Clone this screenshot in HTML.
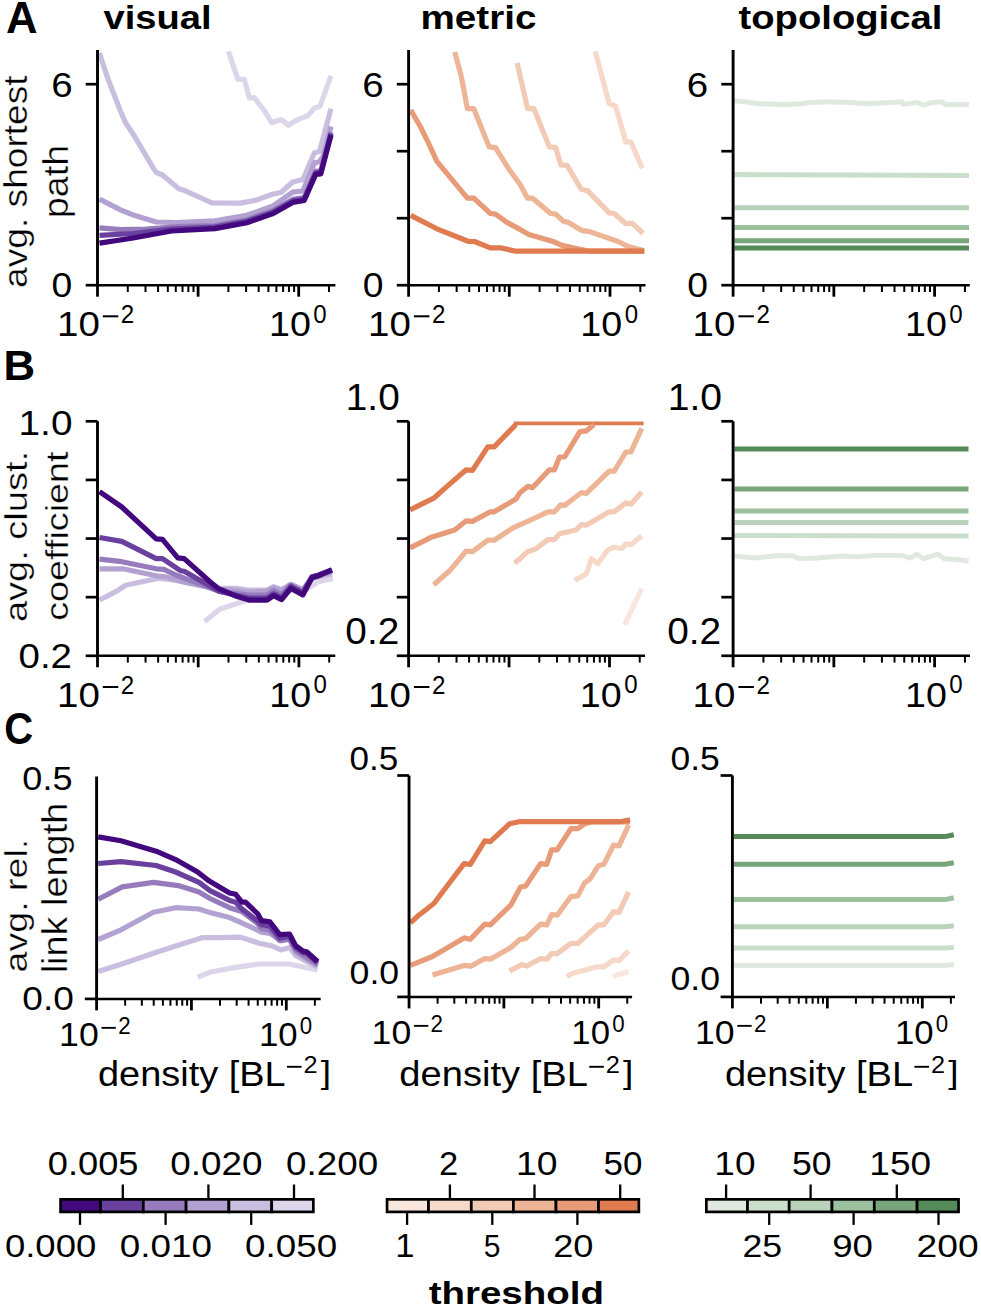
<!DOCTYPE html><html><head><meta charset="utf-8"><style>html,body{margin:0;padding:0;background:#fff;width:981px;height:1309px;overflow:hidden}</style></head><body><svg width="981" height="1309" viewBox="0 0 981 1309" style="position:absolute;left:0;top:0;font-family:'Liberation Sans',sans-serif">
<rect width="981" height="1309" fill="#fff"/>
<polyline points="228.4,51.4 237.9,79.4 244.3,79.4 249.4,97.9 254.5,97.9 264.7,111.3 271.7,122.7 281.3,119.5 288.3,125.3 296.5,120.2 308.0,115.7 314.4,108.1 320.1,106.2 331.0,75.6" fill="none" stroke="#ddd6eb" stroke-width="5.2" stroke-linejoin="round" stroke-linecap="butt"/>
<polyline points="99.4,53.0 107.7,78.1 120.5,111.3 125.6,122.7 133.2,134.2 153.6,168.6 156.2,172.4 162.5,175.0 179.1,189.0 184.2,190.3 212.2,203.0 240.5,203.1 257.0,199.9 272.3,194.2 281.3,192.2 292.7,182.0 302.9,179.5 314.4,152.7 319.5,151.5 331.0,108.7" fill="none" stroke="#c9bee0" stroke-width="5.2" stroke-linejoin="round" stroke-linecap="butt"/>
<polyline points="99.5,199.1 120.5,209.9 133.2,215.0 156.2,222.0 176.5,222.7 215.0,220.9 246.9,215.2 272.3,206.3 292.7,192.2 302.9,191.0 314.4,162.9 319.5,161.7 323.3,155.9 331.0,126.5" fill="none" stroke="#b3a1d1" stroke-width="5.2" stroke-linejoin="round" stroke-linecap="butt"/>
<polyline points="99.5,227.8 120.5,229.7 146.0,229.1 177.8,226.5 215.0,225.6 246.9,219.8 272.3,210.9 292.7,199.4 304.2,197.5 315.7,171.4 320.8,170.8 331.0,132.0" fill="none" stroke="#967cbc" stroke-width="5.2" stroke-linejoin="round" stroke-linecap="butt"/>
<polyline points="99.5,235.4 133.2,233.5 171.5,229.0 215.0,227.1 246.9,221.3 272.3,212.4 292.7,200.9 304.2,199.0 315.7,172.9 320.8,172.3 331.0,133.5" fill="none" stroke="#6a409f" stroke-width="5.2" stroke-linejoin="round" stroke-linecap="butt"/>
<polyline points="99.5,243.1 133.2,238.0 171.5,231.0 215.0,228.6 246.9,222.8 272.3,213.9 292.7,202.4 304.2,200.5 315.7,174.4 320.8,173.8 331.0,135.0" fill="none" stroke="#43077e" stroke-width="5.2" stroke-linejoin="round" stroke-linecap="butt"/>
<polyline points="595.2,51.4 609.2,103.6 615.6,106.2 625.8,141.8 630.9,141.8 642.3,168.6" fill="none" stroke="#f6d9c9" stroke-width="5.2" stroke-linejoin="round" stroke-linecap="butt"/>
<polyline points="517.1,62.8 527.6,108.7 534.0,108.7 549.3,146.9 555.7,147.6 560.8,164.8 567.1,165.4 581.2,189.3 587.5,190.6 609.2,212.9 614.3,213.5 625.8,223.7 632.1,223.1 643.0,233.3" fill="none" stroke="#f2cab6" stroke-width="5.2" stroke-linejoin="round" stroke-linecap="butt"/>
<polyline points="454.7,52.0 461.1,75.6 467.4,108.7 473.8,108.7 489.1,146.9 495.5,147.6 509.5,170.0 520.0,184.2 527.6,198.2 532.7,198.2 550.6,213.5 555.7,214.2 563.3,221.2 568.4,222.4 582.4,230.7 588.8,231.4 618.1,241.5 628.3,246.6 643.6,250.5" fill="none" stroke="#eeb496" stroke-width="5.2" stroke-linejoin="round" stroke-linecap="butt"/>
<polyline points="410.7,110.0 420.3,126.5 427.9,141.8 436.9,161.3 467.4,198.2 473.8,198.2 490.4,213.5 495.5,214.2 506.9,222.4 520.0,229.4 528.9,234.5 553.1,241.5 562.0,245.4 579.9,249.2 590.0,251.2 644.0,251.2" fill="none" stroke="#e79b78" stroke-width="5.2" stroke-linejoin="round" stroke-linecap="butt"/>
<polyline points="410.7,215.4 436.9,228.8 468.7,241.5 474.4,241.5 490.4,247.9 500.6,247.9 515.9,251.2 644.5,251.2" fill="none" stroke="#e07b4f" stroke-width="5.2" stroke-linejoin="round" stroke-linecap="butt"/>
<polyline points="734.5,101.0 745.0,101.7 758.4,103.7 783.8,104.4 801.2,103.7 810.6,102.4 826.6,101.7 850.0,102.4 868.7,103.7 902.1,101.7 903.5,104.4 916.8,102.4 923.5,105.0 932.9,102.4 942.2,101.7 944.9,104.4 969.0,104.6" fill="none" stroke="#e0e9e0" stroke-width="5.0" stroke-linejoin="round" stroke-linecap="butt"/>
<polyline points="734.5,174.6 850.0,175.0 969.0,175.4" fill="none" stroke="#cbddcb" stroke-width="5.0" stroke-linejoin="round" stroke-linecap="butt"/>
<polyline points="734.5,207.7 850.0,207.7 969.0,207.7" fill="none" stroke="#b9d3ba" stroke-width="5.0" stroke-linejoin="round" stroke-linecap="butt"/>
<polyline points="734.5,227.6 850.0,227.6 969.0,227.6" fill="none" stroke="#9bc19e" stroke-width="5.0" stroke-linejoin="round" stroke-linecap="butt"/>
<polyline points="734.5,240.7 850.0,240.7 969.0,240.7" fill="none" stroke="#78a67b" stroke-width="5.0" stroke-linejoin="round" stroke-linecap="butt"/>
<polyline points="734.5,248.1 850.0,248.1 969.0,248.1" fill="none" stroke="#558b59" stroke-width="5.0" stroke-linejoin="round" stroke-linecap="butt"/>
<polyline points="204.6,621.6 220.0,608.9 243.1,601.6 260.0,597.0 290.0,591.0 305.0,590.0 318.0,582.0 333.0,578.4" fill="none" stroke="#ddd6eb" stroke-width="5.2" stroke-linejoin="round" stroke-linecap="butt"/>
<polyline points="99.5,600.0 116.7,591.1 125.6,585.3 158.7,578.3 171.5,579.6 218.6,588.1 236.5,588.3 249.8,590.2 267.0,590.2 273.6,586.6 281.6,589.6 290.8,584.3 302.8,589.9 312.0,578.7 318.7,577.0 331.9,574.0" fill="none" stroke="#c9bee0" stroke-width="5.2" stroke-linejoin="round" stroke-linecap="butt"/>
<polyline points="99.5,568.8 123.0,568.8 156.2,575.8 166.4,577.0 184.2,582.1 218.6,589.3 236.5,590.3 249.8,592.2 267.0,591.2 273.6,587.6 281.6,590.6 290.8,584.3 302.8,589.9 312.0,577.7 318.7,576.0 331.9,572.0" fill="none" stroke="#b3a1d1" stroke-width="5.2" stroke-linejoin="round" stroke-linecap="butt"/>
<polyline points="99.5,559.2 121.8,561.7 156.2,568.8 163.8,569.4 177.8,575.8 218.6,591.1 236.5,593.3 249.8,595.2 267.0,595.2 273.6,590.6 281.6,594.6 290.8,585.3 302.8,591.9 312.0,576.7 318.7,575.0 331.9,570.5" fill="none" stroke="#967cbc" stroke-width="5.2" stroke-linejoin="round" stroke-linecap="butt"/>
<polyline points="99.5,537.5 121.8,541.4 156.2,558.6 162.5,558.6 180.4,570.7 184.2,571.3 218.6,591.1 236.5,595.3 249.8,598.2 267.0,598.2 273.6,593.6 281.6,597.6 290.8,586.3 302.8,592.9 312.0,576.7 318.7,575.0 331.9,569.8" fill="none" stroke="#6a409f" stroke-width="5.2" stroke-linejoin="round" stroke-linecap="butt"/>
<polyline points="99.5,491.7 121.8,507.0 156.2,538.8 162.5,539.4 177.8,557.9 184.2,558.6 210.0,581.7 218.0,588.3 236.5,596.3 249.8,600.2 267.0,600.2 273.6,595.6 281.6,599.6 290.8,588.3 302.8,594.9 312.0,577.7 318.7,575.7 331.9,569.8" fill="none" stroke="#43077e" stroke-width="5.2" stroke-linejoin="round" stroke-linecap="butt"/>
<polyline points="514.0,423.4 643.6,423.4" fill="none" stroke="#e07b4f" stroke-width="3.6" stroke-linejoin="round" stroke-linecap="butt"/>
<polyline points="624.5,624.9 641.7,588.6" fill="none" stroke="#f9e7dd" stroke-width="5.2" stroke-linejoin="round" stroke-linecap="butt"/>
<polyline points="574.8,580.3 586.3,574.0 591.4,558.7 597.7,563.8 607.9,549.8 614.3,547.2 621.9,548.5 625.8,544.0 630.9,544.7 641.7,535.7" fill="none" stroke="#f6d9c9" stroke-width="5.2" stroke-linejoin="round" stroke-linecap="butt"/>
<polyline points="514.6,563.1 520.0,558.7 527.6,551.7 535.3,549.1 548.0,539.6 554.4,539.6 559.5,533.8 576.1,530.0 581.2,524.6 586.3,525.2 609.2,511.8 614.3,511.8 625.8,502.9 630.9,504.2 641.7,492.1" fill="none" stroke="#f2cab6" stroke-width="5.2" stroke-linejoin="round" stroke-linecap="butt"/>
<polyline points="433.7,584.8 449.6,570.8 466.2,551.0 472.5,551.7 487.8,540.2 494.2,540.2 513.3,527.8 520.0,524.6 527.6,521.4 548.0,511.8 554.4,511.8 560.8,504.8 564.6,505.5 581.2,492.7 586.3,493.4 609.2,471.1 614.3,471.1 625.8,452.0 630.9,452.0 641.7,428.4" fill="none" stroke="#eeb496" stroke-width="5.2" stroke-linejoin="round" stroke-linecap="butt"/>
<polyline points="410.1,547.8 430.5,537.6 454.7,530.0 466.2,520.8 472.5,521.4 490.4,511.8 494.2,511.8 515.9,499.1 520.0,492.7 527.6,486.4 532.7,487.6 549.3,469.8 554.4,469.8 559.5,457.0 564.6,457.0 579.9,431.6 586.3,430.9 593.9,424.5" fill="none" stroke="#e79b78" stroke-width="5.2" stroke-linejoin="round" stroke-linecap="butt"/>
<polyline points="410.1,509.9 434.3,497.8 447.0,486.4 466.2,469.8 472.5,470.4 487.8,446.9 494.2,446.9 515.9,424.5" fill="none" stroke="#e07b4f" stroke-width="5.2" stroke-linejoin="round" stroke-linecap="butt"/>
<polyline points="734.5,556.1 754.3,558.1 778.5,555.5 793.8,556.1 798.9,558.7 816.7,558.1 842.2,556.1 857.6,556.8 874.2,555.5 902.2,555.5 909.9,558.1 916.9,554.2 923.3,558.7 931.5,556.1 937.9,554.2 944.3,558.7 960.9,560.0 968.5,561.0" fill="none" stroke="#e0e9e0" stroke-width="5.0" stroke-linejoin="round" stroke-linecap="butt"/>
<polyline points="734.5,535.5 850.0,535.7 968.5,536.0" fill="none" stroke="#cbddcb" stroke-width="5.0" stroke-linejoin="round" stroke-linecap="butt"/>
<polyline points="734.5,522.4 850.0,522.4 968.5,522.4" fill="none" stroke="#b9d3ba" stroke-width="5.0" stroke-linejoin="round" stroke-linecap="butt"/>
<polyline points="734.5,510.9 850.0,510.9 968.5,510.9" fill="none" stroke="#9bc19e" stroke-width="5.0" stroke-linejoin="round" stroke-linecap="butt"/>
<polyline points="734.5,488.9 850.0,488.9 968.5,488.9" fill="none" stroke="#78a67b" stroke-width="5.0" stroke-linejoin="round" stroke-linecap="butt"/>
<polyline points="734.5,449.1 850.0,449.1 968.5,449.1" fill="none" stroke="#558b59" stroke-width="5.0" stroke-linejoin="round" stroke-linecap="butt"/>
<polyline points="197.7,977.2 210.6,972.0 234.5,967.6 258.9,964.0 289.5,964.0 317.6,970.1" fill="none" stroke="#ddd6eb" stroke-width="5.2" stroke-linejoin="round" stroke-linecap="butt"/>
<polyline points="98.2,971.4 121.0,964.2 153.5,953.2 175.6,946.0 202.8,937.6 220.0,937.6 240.6,937.1 258.9,943.2 271.2,945.6 281.0,949.9 289.5,947.5 295.6,955.4 317.6,967.6" fill="none" stroke="#c9bee0" stroke-width="5.2" stroke-linejoin="round" stroke-linecap="butt"/>
<polyline points="98.2,939.5 121.0,929.8 153.5,912.3 175.6,907.7 199.0,909.0 210.0,912.6 229.6,917.5 240.6,922.4 256.5,929.7 261.4,932.2 269.9,933.4 281.0,940.7 289.5,938.3 295.6,952.0 303.0,957.0 317.6,965.8" fill="none" stroke="#b3a1d1" stroke-width="5.2" stroke-linejoin="round" stroke-linecap="butt"/>
<polyline points="98.2,899.3 122.3,886.9 153.5,882.4 178.2,885.6 199.0,892.1 210.0,898.5 229.6,907.7 241.8,911.4 257.7,923.6 261.4,928.5 269.9,930.3 279.7,940.7 289.5,939.5 295.6,950.0 303.0,955.0 317.6,964.5" fill="none" stroke="#967cbc" stroke-width="5.2" stroke-linejoin="round" stroke-linecap="butt"/>
<polyline points="98.2,863.5 121.0,861.6 156.1,865.5 175.6,872.0 199.0,882.4 210.0,890.6 229.6,900.4 235.7,902.2 241.8,908.9 257.7,921.2 261.4,924.8 269.9,926.1 279.7,938.3 289.5,936.5 295.6,947.5 303.0,952.6 306.6,953.3 317.6,962.8" fill="none" stroke="#6a409f" stroke-width="5.2" stroke-linejoin="round" stroke-linecap="butt"/>
<polyline points="98.2,836.9 121.0,840.8 156.1,851.2 175.6,859.6 197.6,872.0 209.3,881.1 229.6,893.0 235.7,894.3 241.8,902.2 245.5,902.2 257.7,913.8 261.4,920.6 269.9,921.8 279.7,934.6 289.5,934.0 295.6,945.6 303.0,951.1 306.6,951.7 317.6,961.5" fill="none" stroke="#43077e" stroke-width="5.2" stroke-linejoin="round" stroke-linecap="butt"/>
<polyline points="612.8,976.4 628.6,971.6" fill="none" stroke="#f9e7dd" stroke-width="5.2" stroke-linejoin="round" stroke-linecap="butt"/>
<polyline points="566.8,976.4 573.6,973.0 597.0,966.8 603.9,966.8 613.5,959.9 619.0,960.6 628.6,951.0" fill="none" stroke="#f6d9c9" stroke-width="5.2" stroke-linejoin="round" stroke-linecap="butt"/>
<polyline points="509.5,970.9 521.9,964.7 526.9,966.1 540.6,958.5 546.8,959.2 551.6,953.7 557.1,953.7 570.9,943.4 577.8,943.4 598.4,924.8 603.9,924.8 613.5,911.8 619.0,912.4 628.6,891.8" fill="none" stroke="#f2cab6" stroke-width="5.2" stroke-linejoin="round" stroke-linecap="butt"/>
<polyline points="432.5,975.0 464.1,965.4 471.0,966.1 484.8,958.5 490.3,959.2 510.9,947.5 520.0,939.3 525.5,938.6 540.6,924.1 546.8,924.8 551.6,914.5 557.1,915.2 570.9,896.6 577.8,895.9 584.6,882.9 590.1,878.8 598.4,865.7 603.9,864.3 613.5,845.1 619.0,845.8 628.6,825.1" fill="none" stroke="#eeb496" stroke-width="5.2" stroke-linejoin="round" stroke-linecap="butt"/>
<polyline points="410.5,965.4 432.5,956.5 464.1,937.9 470.3,939.3 484.8,924.1 490.3,924.8 510.9,904.9 520.5,887.0 525.5,886.3 540.6,863.6 546.8,864.3 551.6,849.9 557.1,849.9 570.9,828.6 577.8,828.6 584.6,823.8 591.5,822.0 630.0,822.0" fill="none" stroke="#e79b78" stroke-width="5.2" stroke-linejoin="round" stroke-linecap="butt"/>
<polyline points="410.5,922.8 418.8,915.2 433.9,903.5 446.3,887.0 464.1,863.6 470.3,864.3 484.8,840.9 490.3,841.6 509.5,823.8 519.1,821.7 620.0,821.7 630.0,819.8" fill="none" stroke="#e07b4f" stroke-width="5.2" stroke-linejoin="round" stroke-linecap="butt"/>
<polyline points="733.8,965.5 945.0,965.5 953.8,964.6" fill="none" stroke="#e0e9e0" stroke-width="5.0" stroke-linejoin="round" stroke-linecap="butt"/>
<polyline points="733.8,948.1 945.0,948.1 953.8,947.2" fill="none" stroke="#cbddcb" stroke-width="5.0" stroke-linejoin="round" stroke-linecap="butt"/>
<polyline points="733.8,926.8 945.0,926.8 953.8,925.8" fill="none" stroke="#b9d3ba" stroke-width="5.0" stroke-linejoin="round" stroke-linecap="butt"/>
<polyline points="733.8,899.6 945.0,899.6 953.8,897.7" fill="none" stroke="#9bc19e" stroke-width="5.0" stroke-linejoin="round" stroke-linecap="butt"/>
<polyline points="733.8,864.3 945.0,864.3 953.8,862.7" fill="none" stroke="#78a67b" stroke-width="5.0" stroke-linejoin="round" stroke-linecap="butt"/>
<polyline points="733.8,836.6 945.0,836.6 953.8,834.7" fill="none" stroke="#558b59" stroke-width="5.0" stroke-linejoin="round" stroke-linecap="butt"/>
<line x1="97.50" y1="50.00" x2="97.50" y2="286.50" stroke="#000" stroke-width="2.9" stroke-linecap="butt"/>
<line x1="96.05" y1="285.20" x2="335.40" y2="285.20" stroke="#000" stroke-width="2.5" stroke-linecap="butt"/>
<line x1="85.70" y1="285.20" x2="97.50" y2="285.20" stroke="#000" stroke-width="2.7" stroke-linecap="butt"/>
<line x1="85.70" y1="84.20" x2="97.50" y2="84.20" stroke="#000" stroke-width="2.7" stroke-linecap="butt"/>
<line x1="97.50" y1="285.20" x2="97.50" y2="296.70" stroke="#000" stroke-width="2.8" stroke-linecap="butt"/>
<line x1="198.10" y1="285.20" x2="198.10" y2="296.70" stroke="#000" stroke-width="2.8" stroke-linecap="butt"/>
<line x1="298.70" y1="285.20" x2="298.70" y2="296.70" stroke="#000" stroke-width="2.8" stroke-linecap="butt"/>
<line x1="127.78" y1="285.20" x2="127.78" y2="292.00" stroke="#000" stroke-width="2.0" stroke-linecap="butt"/>
<line x1="145.50" y1="285.20" x2="145.50" y2="292.00" stroke="#000" stroke-width="2.0" stroke-linecap="butt"/>
<line x1="158.07" y1="285.20" x2="158.07" y2="292.00" stroke="#000" stroke-width="2.0" stroke-linecap="butt"/>
<line x1="167.82" y1="285.20" x2="167.82" y2="292.00" stroke="#000" stroke-width="2.0" stroke-linecap="butt"/>
<line x1="175.78" y1="285.20" x2="175.78" y2="292.00" stroke="#000" stroke-width="2.0" stroke-linecap="butt"/>
<line x1="182.52" y1="285.20" x2="182.52" y2="292.00" stroke="#000" stroke-width="2.0" stroke-linecap="butt"/>
<line x1="188.35" y1="285.20" x2="188.35" y2="292.00" stroke="#000" stroke-width="2.0" stroke-linecap="butt"/>
<line x1="193.50" y1="285.20" x2="193.50" y2="292.00" stroke="#000" stroke-width="2.0" stroke-linecap="butt"/>
<line x1="228.38" y1="285.20" x2="228.38" y2="292.00" stroke="#000" stroke-width="2.0" stroke-linecap="butt"/>
<line x1="246.10" y1="285.20" x2="246.10" y2="292.00" stroke="#000" stroke-width="2.0" stroke-linecap="butt"/>
<line x1="258.67" y1="285.20" x2="258.67" y2="292.00" stroke="#000" stroke-width="2.0" stroke-linecap="butt"/>
<line x1="268.42" y1="285.20" x2="268.42" y2="292.00" stroke="#000" stroke-width="2.0" stroke-linecap="butt"/>
<line x1="276.38" y1="285.20" x2="276.38" y2="292.00" stroke="#000" stroke-width="2.0" stroke-linecap="butt"/>
<line x1="283.12" y1="285.20" x2="283.12" y2="292.00" stroke="#000" stroke-width="2.0" stroke-linecap="butt"/>
<line x1="288.95" y1="285.20" x2="288.95" y2="292.00" stroke="#000" stroke-width="2.0" stroke-linecap="butt"/>
<line x1="294.10" y1="285.20" x2="294.10" y2="292.00" stroke="#000" stroke-width="2.0" stroke-linecap="butt"/>
<line x1="328.98" y1="285.20" x2="328.98" y2="292.00" stroke="#000" stroke-width="2.0" stroke-linecap="butt"/>
<line x1="408.60" y1="50.00" x2="408.60" y2="286.50" stroke="#000" stroke-width="2.9" stroke-linecap="butt"/>
<line x1="407.15" y1="285.20" x2="645.50" y2="285.20" stroke="#000" stroke-width="2.5" stroke-linecap="butt"/>
<line x1="396.80" y1="285.20" x2="408.60" y2="285.20" stroke="#000" stroke-width="2.7" stroke-linecap="butt"/>
<line x1="396.80" y1="218.20" x2="408.60" y2="218.20" stroke="#000" stroke-width="2.7" stroke-linecap="butt"/>
<line x1="396.80" y1="151.20" x2="408.60" y2="151.20" stroke="#000" stroke-width="2.7" stroke-linecap="butt"/>
<line x1="396.80" y1="84.20" x2="408.60" y2="84.20" stroke="#000" stroke-width="2.7" stroke-linecap="butt"/>
<line x1="408.60" y1="285.20" x2="408.60" y2="296.70" stroke="#000" stroke-width="2.8" stroke-linecap="butt"/>
<line x1="509.30" y1="285.20" x2="509.30" y2="296.70" stroke="#000" stroke-width="2.8" stroke-linecap="butt"/>
<line x1="610.00" y1="285.20" x2="610.00" y2="296.70" stroke="#000" stroke-width="2.8" stroke-linecap="butt"/>
<line x1="438.91" y1="285.20" x2="438.91" y2="292.00" stroke="#000" stroke-width="2.0" stroke-linecap="butt"/>
<line x1="456.65" y1="285.20" x2="456.65" y2="292.00" stroke="#000" stroke-width="2.0" stroke-linecap="butt"/>
<line x1="469.23" y1="285.20" x2="469.23" y2="292.00" stroke="#000" stroke-width="2.0" stroke-linecap="butt"/>
<line x1="478.99" y1="285.20" x2="478.99" y2="292.00" stroke="#000" stroke-width="2.0" stroke-linecap="butt"/>
<line x1="486.96" y1="285.20" x2="486.96" y2="292.00" stroke="#000" stroke-width="2.0" stroke-linecap="butt"/>
<line x1="493.70" y1="285.20" x2="493.70" y2="292.00" stroke="#000" stroke-width="2.0" stroke-linecap="butt"/>
<line x1="499.54" y1="285.20" x2="499.54" y2="292.00" stroke="#000" stroke-width="2.0" stroke-linecap="butt"/>
<line x1="504.69" y1="285.20" x2="504.69" y2="292.00" stroke="#000" stroke-width="2.0" stroke-linecap="butt"/>
<line x1="539.61" y1="285.20" x2="539.61" y2="292.00" stroke="#000" stroke-width="2.0" stroke-linecap="butt"/>
<line x1="557.35" y1="285.20" x2="557.35" y2="292.00" stroke="#000" stroke-width="2.0" stroke-linecap="butt"/>
<line x1="569.93" y1="285.20" x2="569.93" y2="292.00" stroke="#000" stroke-width="2.0" stroke-linecap="butt"/>
<line x1="579.69" y1="285.20" x2="579.69" y2="292.00" stroke="#000" stroke-width="2.0" stroke-linecap="butt"/>
<line x1="587.66" y1="285.20" x2="587.66" y2="292.00" stroke="#000" stroke-width="2.0" stroke-linecap="butt"/>
<line x1="594.40" y1="285.20" x2="594.40" y2="292.00" stroke="#000" stroke-width="2.0" stroke-linecap="butt"/>
<line x1="600.24" y1="285.20" x2="600.24" y2="292.00" stroke="#000" stroke-width="2.0" stroke-linecap="butt"/>
<line x1="605.39" y1="285.20" x2="605.39" y2="292.00" stroke="#000" stroke-width="2.0" stroke-linecap="butt"/>
<line x1="640.31" y1="285.20" x2="640.31" y2="292.00" stroke="#000" stroke-width="2.0" stroke-linecap="butt"/>
<line x1="733.10" y1="50.00" x2="733.10" y2="286.50" stroke="#000" stroke-width="2.9" stroke-linecap="butt"/>
<line x1="731.65" y1="285.20" x2="969.80" y2="285.20" stroke="#000" stroke-width="2.5" stroke-linecap="butt"/>
<line x1="721.30" y1="285.20" x2="733.10" y2="285.20" stroke="#000" stroke-width="2.7" stroke-linecap="butt"/>
<line x1="721.30" y1="218.20" x2="733.10" y2="218.20" stroke="#000" stroke-width="2.7" stroke-linecap="butt"/>
<line x1="721.30" y1="151.20" x2="733.10" y2="151.20" stroke="#000" stroke-width="2.7" stroke-linecap="butt"/>
<line x1="721.30" y1="84.20" x2="733.10" y2="84.20" stroke="#000" stroke-width="2.7" stroke-linecap="butt"/>
<line x1="733.10" y1="285.20" x2="733.10" y2="296.70" stroke="#000" stroke-width="2.8" stroke-linecap="butt"/>
<line x1="833.85" y1="285.20" x2="833.85" y2="296.70" stroke="#000" stroke-width="2.8" stroke-linecap="butt"/>
<line x1="934.60" y1="285.20" x2="934.60" y2="296.70" stroke="#000" stroke-width="2.8" stroke-linecap="butt"/>
<line x1="763.43" y1="285.20" x2="763.43" y2="292.00" stroke="#000" stroke-width="2.0" stroke-linecap="butt"/>
<line x1="781.17" y1="285.20" x2="781.17" y2="292.00" stroke="#000" stroke-width="2.0" stroke-linecap="butt"/>
<line x1="793.76" y1="285.20" x2="793.76" y2="292.00" stroke="#000" stroke-width="2.0" stroke-linecap="butt"/>
<line x1="803.52" y1="285.20" x2="803.52" y2="292.00" stroke="#000" stroke-width="2.0" stroke-linecap="butt"/>
<line x1="811.50" y1="285.20" x2="811.50" y2="292.00" stroke="#000" stroke-width="2.0" stroke-linecap="butt"/>
<line x1="818.24" y1="285.20" x2="818.24" y2="292.00" stroke="#000" stroke-width="2.0" stroke-linecap="butt"/>
<line x1="824.09" y1="285.20" x2="824.09" y2="292.00" stroke="#000" stroke-width="2.0" stroke-linecap="butt"/>
<line x1="829.24" y1="285.20" x2="829.24" y2="292.00" stroke="#000" stroke-width="2.0" stroke-linecap="butt"/>
<line x1="864.18" y1="285.20" x2="864.18" y2="292.00" stroke="#000" stroke-width="2.0" stroke-linecap="butt"/>
<line x1="881.92" y1="285.20" x2="881.92" y2="292.00" stroke="#000" stroke-width="2.0" stroke-linecap="butt"/>
<line x1="894.51" y1="285.20" x2="894.51" y2="292.00" stroke="#000" stroke-width="2.0" stroke-linecap="butt"/>
<line x1="904.27" y1="285.20" x2="904.27" y2="292.00" stroke="#000" stroke-width="2.0" stroke-linecap="butt"/>
<line x1="912.25" y1="285.20" x2="912.25" y2="292.00" stroke="#000" stroke-width="2.0" stroke-linecap="butt"/>
<line x1="918.99" y1="285.20" x2="918.99" y2="292.00" stroke="#000" stroke-width="2.0" stroke-linecap="butt"/>
<line x1="924.84" y1="285.20" x2="924.84" y2="292.00" stroke="#000" stroke-width="2.0" stroke-linecap="butt"/>
<line x1="929.99" y1="285.20" x2="929.99" y2="292.00" stroke="#000" stroke-width="2.0" stroke-linecap="butt"/>
<line x1="964.93" y1="285.20" x2="964.93" y2="292.00" stroke="#000" stroke-width="2.0" stroke-linecap="butt"/>
<line x1="97.50" y1="421.30" x2="97.50" y2="657.10" stroke="#000" stroke-width="2.9" stroke-linecap="butt"/>
<line x1="96.05" y1="655.80" x2="335.30" y2="655.80" stroke="#000" stroke-width="2.5" stroke-linecap="butt"/>
<line x1="85.70" y1="655.80" x2="97.50" y2="655.80" stroke="#000" stroke-width="2.7" stroke-linecap="butt"/>
<line x1="85.70" y1="597.17" x2="97.50" y2="597.17" stroke="#000" stroke-width="2.7" stroke-linecap="butt"/>
<line x1="85.70" y1="538.55" x2="97.50" y2="538.55" stroke="#000" stroke-width="2.7" stroke-linecap="butt"/>
<line x1="85.70" y1="479.92" x2="97.50" y2="479.92" stroke="#000" stroke-width="2.7" stroke-linecap="butt"/>
<line x1="85.70" y1="421.30" x2="97.50" y2="421.30" stroke="#000" stroke-width="2.7" stroke-linecap="butt"/>
<line x1="97.50" y1="655.80" x2="97.50" y2="667.30" stroke="#000" stroke-width="2.8" stroke-linecap="butt"/>
<line x1="198.20" y1="655.80" x2="198.20" y2="667.30" stroke="#000" stroke-width="2.8" stroke-linecap="butt"/>
<line x1="298.90" y1="655.80" x2="298.90" y2="667.30" stroke="#000" stroke-width="2.8" stroke-linecap="butt"/>
<line x1="127.81" y1="655.80" x2="127.81" y2="662.60" stroke="#000" stroke-width="2.0" stroke-linecap="butt"/>
<line x1="145.55" y1="655.80" x2="145.55" y2="662.60" stroke="#000" stroke-width="2.0" stroke-linecap="butt"/>
<line x1="158.13" y1="655.80" x2="158.13" y2="662.60" stroke="#000" stroke-width="2.0" stroke-linecap="butt"/>
<line x1="167.89" y1="655.80" x2="167.89" y2="662.60" stroke="#000" stroke-width="2.0" stroke-linecap="butt"/>
<line x1="175.86" y1="655.80" x2="175.86" y2="662.60" stroke="#000" stroke-width="2.0" stroke-linecap="butt"/>
<line x1="182.60" y1="655.80" x2="182.60" y2="662.60" stroke="#000" stroke-width="2.0" stroke-linecap="butt"/>
<line x1="188.44" y1="655.80" x2="188.44" y2="662.60" stroke="#000" stroke-width="2.0" stroke-linecap="butt"/>
<line x1="193.59" y1="655.80" x2="193.59" y2="662.60" stroke="#000" stroke-width="2.0" stroke-linecap="butt"/>
<line x1="228.51" y1="655.80" x2="228.51" y2="662.60" stroke="#000" stroke-width="2.0" stroke-linecap="butt"/>
<line x1="246.25" y1="655.80" x2="246.25" y2="662.60" stroke="#000" stroke-width="2.0" stroke-linecap="butt"/>
<line x1="258.83" y1="655.80" x2="258.83" y2="662.60" stroke="#000" stroke-width="2.0" stroke-linecap="butt"/>
<line x1="268.59" y1="655.80" x2="268.59" y2="662.60" stroke="#000" stroke-width="2.0" stroke-linecap="butt"/>
<line x1="276.56" y1="655.80" x2="276.56" y2="662.60" stroke="#000" stroke-width="2.0" stroke-linecap="butt"/>
<line x1="283.30" y1="655.80" x2="283.30" y2="662.60" stroke="#000" stroke-width="2.0" stroke-linecap="butt"/>
<line x1="289.14" y1="655.80" x2="289.14" y2="662.60" stroke="#000" stroke-width="2.0" stroke-linecap="butt"/>
<line x1="294.29" y1="655.80" x2="294.29" y2="662.60" stroke="#000" stroke-width="2.0" stroke-linecap="butt"/>
<line x1="329.21" y1="655.80" x2="329.21" y2="662.60" stroke="#000" stroke-width="2.0" stroke-linecap="butt"/>
<line x1="408.60" y1="421.30" x2="408.60" y2="657.10" stroke="#000" stroke-width="2.9" stroke-linecap="butt"/>
<line x1="407.15" y1="655.80" x2="645.00" y2="655.80" stroke="#000" stroke-width="2.5" stroke-linecap="butt"/>
<line x1="396.80" y1="655.80" x2="408.60" y2="655.80" stroke="#000" stroke-width="2.7" stroke-linecap="butt"/>
<line x1="396.80" y1="597.17" x2="408.60" y2="597.17" stroke="#000" stroke-width="2.7" stroke-linecap="butt"/>
<line x1="396.80" y1="538.55" x2="408.60" y2="538.55" stroke="#000" stroke-width="2.7" stroke-linecap="butt"/>
<line x1="396.80" y1="479.92" x2="408.60" y2="479.92" stroke="#000" stroke-width="2.7" stroke-linecap="butt"/>
<line x1="396.80" y1="421.30" x2="408.60" y2="421.30" stroke="#000" stroke-width="2.7" stroke-linecap="butt"/>
<line x1="408.60" y1="655.80" x2="408.60" y2="667.30" stroke="#000" stroke-width="2.8" stroke-linecap="butt"/>
<line x1="509.05" y1="655.80" x2="509.05" y2="667.30" stroke="#000" stroke-width="2.8" stroke-linecap="butt"/>
<line x1="609.50" y1="655.80" x2="609.50" y2="667.30" stroke="#000" stroke-width="2.8" stroke-linecap="butt"/>
<line x1="438.84" y1="655.80" x2="438.84" y2="662.60" stroke="#000" stroke-width="2.0" stroke-linecap="butt"/>
<line x1="456.53" y1="655.80" x2="456.53" y2="662.60" stroke="#000" stroke-width="2.0" stroke-linecap="butt"/>
<line x1="469.08" y1="655.80" x2="469.08" y2="662.60" stroke="#000" stroke-width="2.0" stroke-linecap="butt"/>
<line x1="478.81" y1="655.80" x2="478.81" y2="662.60" stroke="#000" stroke-width="2.0" stroke-linecap="butt"/>
<line x1="486.77" y1="655.80" x2="486.77" y2="662.60" stroke="#000" stroke-width="2.0" stroke-linecap="butt"/>
<line x1="493.49" y1="655.80" x2="493.49" y2="662.60" stroke="#000" stroke-width="2.0" stroke-linecap="butt"/>
<line x1="499.32" y1="655.80" x2="499.32" y2="662.60" stroke="#000" stroke-width="2.0" stroke-linecap="butt"/>
<line x1="504.45" y1="655.80" x2="504.45" y2="662.60" stroke="#000" stroke-width="2.0" stroke-linecap="butt"/>
<line x1="539.29" y1="655.80" x2="539.29" y2="662.60" stroke="#000" stroke-width="2.0" stroke-linecap="butt"/>
<line x1="556.98" y1="655.80" x2="556.98" y2="662.60" stroke="#000" stroke-width="2.0" stroke-linecap="butt"/>
<line x1="569.53" y1="655.80" x2="569.53" y2="662.60" stroke="#000" stroke-width="2.0" stroke-linecap="butt"/>
<line x1="579.26" y1="655.80" x2="579.26" y2="662.60" stroke="#000" stroke-width="2.0" stroke-linecap="butt"/>
<line x1="587.22" y1="655.80" x2="587.22" y2="662.60" stroke="#000" stroke-width="2.0" stroke-linecap="butt"/>
<line x1="593.94" y1="655.80" x2="593.94" y2="662.60" stroke="#000" stroke-width="2.0" stroke-linecap="butt"/>
<line x1="599.77" y1="655.80" x2="599.77" y2="662.60" stroke="#000" stroke-width="2.0" stroke-linecap="butt"/>
<line x1="604.90" y1="655.80" x2="604.90" y2="662.60" stroke="#000" stroke-width="2.0" stroke-linecap="butt"/>
<line x1="639.74" y1="655.80" x2="639.74" y2="662.60" stroke="#000" stroke-width="2.0" stroke-linecap="butt"/>
<line x1="733.10" y1="421.30" x2="733.10" y2="657.10" stroke="#000" stroke-width="2.9" stroke-linecap="butt"/>
<line x1="731.65" y1="655.80" x2="970.00" y2="655.80" stroke="#000" stroke-width="2.5" stroke-linecap="butt"/>
<line x1="721.30" y1="655.80" x2="733.10" y2="655.80" stroke="#000" stroke-width="2.7" stroke-linecap="butt"/>
<line x1="721.30" y1="597.17" x2="733.10" y2="597.17" stroke="#000" stroke-width="2.7" stroke-linecap="butt"/>
<line x1="721.30" y1="538.55" x2="733.10" y2="538.55" stroke="#000" stroke-width="2.7" stroke-linecap="butt"/>
<line x1="721.30" y1="479.92" x2="733.10" y2="479.92" stroke="#000" stroke-width="2.7" stroke-linecap="butt"/>
<line x1="721.30" y1="421.30" x2="733.10" y2="421.30" stroke="#000" stroke-width="2.7" stroke-linecap="butt"/>
<line x1="733.10" y1="655.80" x2="733.10" y2="667.30" stroke="#000" stroke-width="2.8" stroke-linecap="butt"/>
<line x1="833.85" y1="655.80" x2="833.85" y2="667.30" stroke="#000" stroke-width="2.8" stroke-linecap="butt"/>
<line x1="934.60" y1="655.80" x2="934.60" y2="667.30" stroke="#000" stroke-width="2.8" stroke-linecap="butt"/>
<line x1="763.43" y1="655.80" x2="763.43" y2="662.60" stroke="#000" stroke-width="2.0" stroke-linecap="butt"/>
<line x1="781.17" y1="655.80" x2="781.17" y2="662.60" stroke="#000" stroke-width="2.0" stroke-linecap="butt"/>
<line x1="793.76" y1="655.80" x2="793.76" y2="662.60" stroke="#000" stroke-width="2.0" stroke-linecap="butt"/>
<line x1="803.52" y1="655.80" x2="803.52" y2="662.60" stroke="#000" stroke-width="2.0" stroke-linecap="butt"/>
<line x1="811.50" y1="655.80" x2="811.50" y2="662.60" stroke="#000" stroke-width="2.0" stroke-linecap="butt"/>
<line x1="818.24" y1="655.80" x2="818.24" y2="662.60" stroke="#000" stroke-width="2.0" stroke-linecap="butt"/>
<line x1="824.09" y1="655.80" x2="824.09" y2="662.60" stroke="#000" stroke-width="2.0" stroke-linecap="butt"/>
<line x1="829.24" y1="655.80" x2="829.24" y2="662.60" stroke="#000" stroke-width="2.0" stroke-linecap="butt"/>
<line x1="864.18" y1="655.80" x2="864.18" y2="662.60" stroke="#000" stroke-width="2.0" stroke-linecap="butt"/>
<line x1="881.92" y1="655.80" x2="881.92" y2="662.60" stroke="#000" stroke-width="2.0" stroke-linecap="butt"/>
<line x1="894.51" y1="655.80" x2="894.51" y2="662.60" stroke="#000" stroke-width="2.0" stroke-linecap="butt"/>
<line x1="904.27" y1="655.80" x2="904.27" y2="662.60" stroke="#000" stroke-width="2.0" stroke-linecap="butt"/>
<line x1="912.25" y1="655.80" x2="912.25" y2="662.60" stroke="#000" stroke-width="2.0" stroke-linecap="butt"/>
<line x1="918.99" y1="655.80" x2="918.99" y2="662.60" stroke="#000" stroke-width="2.0" stroke-linecap="butt"/>
<line x1="924.84" y1="655.80" x2="924.84" y2="662.60" stroke="#000" stroke-width="2.0" stroke-linecap="butt"/>
<line x1="929.99" y1="655.80" x2="929.99" y2="662.60" stroke="#000" stroke-width="2.0" stroke-linecap="butt"/>
<line x1="964.93" y1="655.80" x2="964.93" y2="662.60" stroke="#000" stroke-width="2.0" stroke-linecap="butt"/>
<line x1="96.60" y1="776.50" x2="96.60" y2="1000.20" stroke="#000" stroke-width="2.9" stroke-linecap="butt"/>
<line x1="95.15" y1="998.90" x2="320.70" y2="998.90" stroke="#000" stroke-width="2.5" stroke-linecap="butt"/>
<line x1="84.80" y1="998.90" x2="96.60" y2="998.90" stroke="#000" stroke-width="2.7" stroke-linecap="butt"/>
<line x1="96.60" y1="998.90" x2="96.60" y2="1010.40" stroke="#000" stroke-width="2.8" stroke-linecap="butt"/>
<line x1="191.45" y1="998.90" x2="191.45" y2="1010.40" stroke="#000" stroke-width="2.8" stroke-linecap="butt"/>
<line x1="286.30" y1="998.90" x2="286.30" y2="1010.40" stroke="#000" stroke-width="2.8" stroke-linecap="butt"/>
<line x1="125.15" y1="998.90" x2="125.15" y2="1005.70" stroke="#000" stroke-width="2.0" stroke-linecap="butt"/>
<line x1="141.85" y1="998.90" x2="141.85" y2="1005.70" stroke="#000" stroke-width="2.0" stroke-linecap="butt"/>
<line x1="153.71" y1="998.90" x2="153.71" y2="1005.70" stroke="#000" stroke-width="2.0" stroke-linecap="butt"/>
<line x1="162.90" y1="998.90" x2="162.90" y2="1005.70" stroke="#000" stroke-width="2.0" stroke-linecap="butt"/>
<line x1="170.41" y1="998.90" x2="170.41" y2="1005.70" stroke="#000" stroke-width="2.0" stroke-linecap="butt"/>
<line x1="176.76" y1="998.90" x2="176.76" y2="1005.70" stroke="#000" stroke-width="2.0" stroke-linecap="butt"/>
<line x1="182.26" y1="998.90" x2="182.26" y2="1005.70" stroke="#000" stroke-width="2.0" stroke-linecap="butt"/>
<line x1="187.11" y1="998.90" x2="187.11" y2="1005.70" stroke="#000" stroke-width="2.0" stroke-linecap="butt"/>
<line x1="220.00" y1="998.90" x2="220.00" y2="1005.70" stroke="#000" stroke-width="2.0" stroke-linecap="butt"/>
<line x1="236.70" y1="998.90" x2="236.70" y2="1005.70" stroke="#000" stroke-width="2.0" stroke-linecap="butt"/>
<line x1="248.56" y1="998.90" x2="248.56" y2="1005.70" stroke="#000" stroke-width="2.0" stroke-linecap="butt"/>
<line x1="257.75" y1="998.90" x2="257.75" y2="1005.70" stroke="#000" stroke-width="2.0" stroke-linecap="butt"/>
<line x1="265.26" y1="998.90" x2="265.26" y2="1005.70" stroke="#000" stroke-width="2.0" stroke-linecap="butt"/>
<line x1="271.61" y1="998.90" x2="271.61" y2="1005.70" stroke="#000" stroke-width="2.0" stroke-linecap="butt"/>
<line x1="277.11" y1="998.90" x2="277.11" y2="1005.70" stroke="#000" stroke-width="2.0" stroke-linecap="butt"/>
<line x1="281.96" y1="998.90" x2="281.96" y2="1005.70" stroke="#000" stroke-width="2.0" stroke-linecap="butt"/>
<line x1="314.85" y1="998.90" x2="314.85" y2="1005.70" stroke="#000" stroke-width="2.0" stroke-linecap="butt"/>
<line x1="409.05" y1="775.50" x2="409.05" y2="998.20" stroke="#000" stroke-width="2.9" stroke-linecap="butt"/>
<line x1="407.60" y1="996.90" x2="632.10" y2="996.90" stroke="#000" stroke-width="2.5" stroke-linecap="butt"/>
<line x1="397.25" y1="996.90" x2="409.05" y2="996.90" stroke="#000" stroke-width="2.7" stroke-linecap="butt"/>
<line x1="397.25" y1="775.50" x2="409.05" y2="775.50" stroke="#000" stroke-width="2.7" stroke-linecap="butt"/>
<line x1="409.05" y1="996.90" x2="409.05" y2="1008.40" stroke="#000" stroke-width="2.8" stroke-linecap="butt"/>
<line x1="503.88" y1="996.90" x2="503.88" y2="1008.40" stroke="#000" stroke-width="2.8" stroke-linecap="butt"/>
<line x1="598.70" y1="996.90" x2="598.70" y2="1008.40" stroke="#000" stroke-width="2.8" stroke-linecap="butt"/>
<line x1="437.60" y1="996.90" x2="437.60" y2="1003.70" stroke="#000" stroke-width="2.0" stroke-linecap="butt"/>
<line x1="454.29" y1="996.90" x2="454.29" y2="1003.70" stroke="#000" stroke-width="2.0" stroke-linecap="butt"/>
<line x1="466.14" y1="996.90" x2="466.14" y2="1003.70" stroke="#000" stroke-width="2.0" stroke-linecap="butt"/>
<line x1="475.33" y1="996.90" x2="475.33" y2="1003.70" stroke="#000" stroke-width="2.0" stroke-linecap="butt"/>
<line x1="482.84" y1="996.90" x2="482.84" y2="1003.70" stroke="#000" stroke-width="2.0" stroke-linecap="butt"/>
<line x1="489.19" y1="996.90" x2="489.19" y2="1003.70" stroke="#000" stroke-width="2.0" stroke-linecap="butt"/>
<line x1="494.69" y1="996.90" x2="494.69" y2="1003.70" stroke="#000" stroke-width="2.0" stroke-linecap="butt"/>
<line x1="499.54" y1="996.90" x2="499.54" y2="1003.70" stroke="#000" stroke-width="2.0" stroke-linecap="butt"/>
<line x1="532.42" y1="996.90" x2="532.42" y2="1003.70" stroke="#000" stroke-width="2.0" stroke-linecap="butt"/>
<line x1="549.12" y1="996.90" x2="549.12" y2="1003.70" stroke="#000" stroke-width="2.0" stroke-linecap="butt"/>
<line x1="560.97" y1="996.90" x2="560.97" y2="1003.70" stroke="#000" stroke-width="2.0" stroke-linecap="butt"/>
<line x1="570.15" y1="996.90" x2="570.15" y2="1003.70" stroke="#000" stroke-width="2.0" stroke-linecap="butt"/>
<line x1="577.66" y1="996.90" x2="577.66" y2="1003.70" stroke="#000" stroke-width="2.0" stroke-linecap="butt"/>
<line x1="584.01" y1="996.90" x2="584.01" y2="1003.70" stroke="#000" stroke-width="2.0" stroke-linecap="butt"/>
<line x1="589.51" y1="996.90" x2="589.51" y2="1003.70" stroke="#000" stroke-width="2.0" stroke-linecap="butt"/>
<line x1="594.36" y1="996.90" x2="594.36" y2="1003.70" stroke="#000" stroke-width="2.0" stroke-linecap="butt"/>
<line x1="627.25" y1="996.90" x2="627.25" y2="1003.70" stroke="#000" stroke-width="2.0" stroke-linecap="butt"/>
<line x1="732.40" y1="775.50" x2="732.40" y2="998.20" stroke="#000" stroke-width="2.9" stroke-linecap="butt"/>
<line x1="730.95" y1="996.90" x2="955.00" y2="996.90" stroke="#000" stroke-width="2.5" stroke-linecap="butt"/>
<line x1="720.60" y1="996.90" x2="732.40" y2="996.90" stroke="#000" stroke-width="2.7" stroke-linecap="butt"/>
<line x1="720.60" y1="775.50" x2="732.40" y2="775.50" stroke="#000" stroke-width="2.7" stroke-linecap="butt"/>
<line x1="732.40" y1="996.90" x2="732.40" y2="1008.40" stroke="#000" stroke-width="2.8" stroke-linecap="butt"/>
<line x1="827.35" y1="996.90" x2="827.35" y2="1008.40" stroke="#000" stroke-width="2.8" stroke-linecap="butt"/>
<line x1="922.30" y1="996.90" x2="922.30" y2="1008.40" stroke="#000" stroke-width="2.8" stroke-linecap="butt"/>
<line x1="760.98" y1="996.90" x2="760.98" y2="1003.70" stroke="#000" stroke-width="2.0" stroke-linecap="butt"/>
<line x1="777.70" y1="996.90" x2="777.70" y2="1003.70" stroke="#000" stroke-width="2.0" stroke-linecap="butt"/>
<line x1="789.57" y1="996.90" x2="789.57" y2="1003.70" stroke="#000" stroke-width="2.0" stroke-linecap="butt"/>
<line x1="798.77" y1="996.90" x2="798.77" y2="1003.70" stroke="#000" stroke-width="2.0" stroke-linecap="butt"/>
<line x1="806.29" y1="996.90" x2="806.29" y2="1003.70" stroke="#000" stroke-width="2.0" stroke-linecap="butt"/>
<line x1="812.64" y1="996.90" x2="812.64" y2="1003.70" stroke="#000" stroke-width="2.0" stroke-linecap="butt"/>
<line x1="818.15" y1="996.90" x2="818.15" y2="1003.70" stroke="#000" stroke-width="2.0" stroke-linecap="butt"/>
<line x1="823.01" y1="996.90" x2="823.01" y2="1003.70" stroke="#000" stroke-width="2.0" stroke-linecap="butt"/>
<line x1="855.93" y1="996.90" x2="855.93" y2="1003.70" stroke="#000" stroke-width="2.0" stroke-linecap="butt"/>
<line x1="872.65" y1="996.90" x2="872.65" y2="1003.70" stroke="#000" stroke-width="2.0" stroke-linecap="butt"/>
<line x1="884.52" y1="996.90" x2="884.52" y2="1003.70" stroke="#000" stroke-width="2.0" stroke-linecap="butt"/>
<line x1="893.72" y1="996.90" x2="893.72" y2="1003.70" stroke="#000" stroke-width="2.0" stroke-linecap="butt"/>
<line x1="901.24" y1="996.90" x2="901.24" y2="1003.70" stroke="#000" stroke-width="2.0" stroke-linecap="butt"/>
<line x1="907.59" y1="996.90" x2="907.59" y2="1003.70" stroke="#000" stroke-width="2.0" stroke-linecap="butt"/>
<line x1="913.10" y1="996.90" x2="913.10" y2="1003.70" stroke="#000" stroke-width="2.0" stroke-linecap="butt"/>
<line x1="917.96" y1="996.90" x2="917.96" y2="1003.70" stroke="#000" stroke-width="2.0" stroke-linecap="butt"/>
<line x1="950.88" y1="996.90" x2="950.88" y2="1003.70" stroke="#000" stroke-width="2.0" stroke-linecap="butt"/>
<text x="5.91" y="32.50" font-size="43.64" font-weight="bold" textLength="31.58" lengthAdjust="spacingAndGlyphs" fill="#000">A</text>
<text x="3.55" y="380.30" font-size="41.60" font-weight="bold" textLength="31.61" lengthAdjust="spacingAndGlyphs" fill="#000">B</text>
<text x="4.20" y="744.16" font-size="43.53" font-weight="bold" textLength="28.89" lengthAdjust="spacingAndGlyphs" fill="#000">C</text>
<text x="103.51" y="29.00" font-size="33.38" font-weight="bold" textLength="108.16" lengthAdjust="spacingAndGlyphs" fill="#000">visual</text>
<text x="420.49" y="28.90" font-size="33.49" font-weight="bold" textLength="115.93" lengthAdjust="spacingAndGlyphs" fill="#000">metric</text>
<text x="738.52" y="29.20" font-size="33.52" font-weight="bold" textLength="203.88" lengthAdjust="spacingAndGlyphs" fill="#000">topological</text>
<text x="428.72" y="1304.10" font-size="32.28" font-weight="bold" textLength="175.21" lengthAdjust="spacingAndGlyphs" fill="#000">threshold</text>
<text x="51.18" y="96.94" font-size="35.90" font-weight="normal" textLength="21.41" lengthAdjust="spacingAndGlyphs" fill="#000">6</text>
<text x="51.61" y="297.24" font-size="35.90" font-weight="normal" textLength="20.73" lengthAdjust="spacingAndGlyphs" fill="#000">0</text>
<text x="362.28" y="96.94" font-size="35.90" font-weight="normal" textLength="21.41" lengthAdjust="spacingAndGlyphs" fill="#000">6</text>
<text x="362.71" y="297.24" font-size="35.90" font-weight="normal" textLength="20.73" lengthAdjust="spacingAndGlyphs" fill="#000">0</text>
<text x="686.78" y="96.94" font-size="35.90" font-weight="normal" textLength="21.41" lengthAdjust="spacingAndGlyphs" fill="#000">6</text>
<text x="687.21" y="297.24" font-size="35.90" font-weight="normal" textLength="20.73" lengthAdjust="spacingAndGlyphs" fill="#000">0</text>
<text x="18.59" y="434.64" font-size="35.90" font-weight="normal" textLength="53.87" lengthAdjust="spacingAndGlyphs" fill="#000">1.0</text>
<text x="18.56" y="668.14" font-size="35.62" font-weight="normal" textLength="53.47" lengthAdjust="spacingAndGlyphs" fill="#000">0.2</text>
<text x="345.79" y="410.34" font-size="36.33" font-weight="normal" textLength="53.98" lengthAdjust="spacingAndGlyphs" fill="#000">1.0</text>
<text x="345.35" y="644.04" font-size="36.33" font-weight="normal" textLength="53.90" lengthAdjust="spacingAndGlyphs" fill="#000">0.2</text>
<text x="667.66" y="410.34" font-size="36.33" font-weight="normal" textLength="54.41" lengthAdjust="spacingAndGlyphs" fill="#000">1.0</text>
<text x="667.15" y="644.04" font-size="36.33" font-weight="normal" textLength="54.00" lengthAdjust="spacingAndGlyphs" fill="#000">0.2</text>
<text x="22.36" y="789.57" font-size="33.07" font-weight="normal" textLength="50.09" lengthAdjust="spacingAndGlyphs" fill="#000">0.5</text>
<text x="22.32" y="1010.07" font-size="32.51" font-weight="normal" textLength="51.48" lengthAdjust="spacingAndGlyphs" fill="#000">0.0</text>
<text x="349.60" y="770.07" font-size="33.07" font-weight="normal" textLength="48.71" lengthAdjust="spacingAndGlyphs" fill="#000">0.5</text>
<text x="349.57" y="984.37" font-size="32.79" font-weight="normal" textLength="49.57" lengthAdjust="spacingAndGlyphs" fill="#000">0.0</text>
<text x="670.48" y="770.07" font-size="33.07" font-weight="normal" textLength="49.24" lengthAdjust="spacingAndGlyphs" fill="#000">0.5</text>
<text x="670.47" y="990.07" font-size="33.07" font-weight="normal" textLength="49.57" lengthAdjust="spacingAndGlyphs" fill="#000">0.0</text>
<text x="57.01" y="336.34" font-size="35.90" font-weight="normal" textLength="42.82" lengthAdjust="spacingAndGlyphs" fill="#000">10</text>
<rect x="102.80" y="315.30" width="15.50" height="2.00" fill="#000"/>
<text x="120.79" y="322.80" font-size="25.66" font-weight="normal" textLength="13.45" lengthAdjust="spacingAndGlyphs" fill="#000">2</text>
<text x="269.08" y="336.34" font-size="35.90" font-weight="normal" textLength="41.82" lengthAdjust="spacingAndGlyphs" fill="#000">10</text>
<text x="313.34" y="322.55" font-size="25.30" font-weight="normal" textLength="13.39" lengthAdjust="spacingAndGlyphs" fill="#000">0</text>
<text x="368.11" y="336.34" font-size="35.90" font-weight="normal" textLength="42.82" lengthAdjust="spacingAndGlyphs" fill="#000">10</text>
<rect x="413.90" y="315.30" width="15.50" height="2.00" fill="#000"/>
<text x="431.89" y="322.80" font-size="25.66" font-weight="normal" textLength="13.45" lengthAdjust="spacingAndGlyphs" fill="#000">2</text>
<text x="580.38" y="336.34" font-size="35.90" font-weight="normal" textLength="41.82" lengthAdjust="spacingAndGlyphs" fill="#000">10</text>
<text x="624.64" y="322.55" font-size="25.30" font-weight="normal" textLength="13.39" lengthAdjust="spacingAndGlyphs" fill="#000">0</text>
<text x="692.61" y="336.34" font-size="35.90" font-weight="normal" textLength="42.82" lengthAdjust="spacingAndGlyphs" fill="#000">10</text>
<rect x="738.40" y="315.30" width="15.50" height="2.00" fill="#000"/>
<text x="756.39" y="322.80" font-size="25.66" font-weight="normal" textLength="13.45" lengthAdjust="spacingAndGlyphs" fill="#000">2</text>
<text x="904.98" y="336.34" font-size="35.90" font-weight="normal" textLength="41.82" lengthAdjust="spacingAndGlyphs" fill="#000">10</text>
<text x="949.24" y="322.55" font-size="25.30" font-weight="normal" textLength="13.39" lengthAdjust="spacingAndGlyphs" fill="#000">0</text>
<text x="57.01" y="707.04" font-size="35.90" font-weight="normal" textLength="42.82" lengthAdjust="spacingAndGlyphs" fill="#000">10</text>
<rect x="102.80" y="686.00" width="15.50" height="2.00" fill="#000"/>
<text x="120.79" y="693.50" font-size="25.66" font-weight="normal" textLength="13.45" lengthAdjust="spacingAndGlyphs" fill="#000">2</text>
<text x="269.28" y="707.04" font-size="35.90" font-weight="normal" textLength="41.82" lengthAdjust="spacingAndGlyphs" fill="#000">10</text>
<text x="313.54" y="693.25" font-size="25.30" font-weight="normal" textLength="13.39" lengthAdjust="spacingAndGlyphs" fill="#000">0</text>
<text x="368.11" y="707.04" font-size="35.90" font-weight="normal" textLength="42.82" lengthAdjust="spacingAndGlyphs" fill="#000">10</text>
<rect x="413.90" y="686.00" width="15.50" height="2.00" fill="#000"/>
<text x="431.89" y="693.50" font-size="25.66" font-weight="normal" textLength="13.45" lengthAdjust="spacingAndGlyphs" fill="#000">2</text>
<text x="579.88" y="707.04" font-size="35.90" font-weight="normal" textLength="41.82" lengthAdjust="spacingAndGlyphs" fill="#000">10</text>
<text x="624.14" y="693.25" font-size="25.30" font-weight="normal" textLength="13.39" lengthAdjust="spacingAndGlyphs" fill="#000">0</text>
<text x="692.61" y="707.04" font-size="35.90" font-weight="normal" textLength="42.82" lengthAdjust="spacingAndGlyphs" fill="#000">10</text>
<rect x="738.40" y="686.00" width="15.50" height="2.00" fill="#000"/>
<text x="756.39" y="693.50" font-size="25.66" font-weight="normal" textLength="13.45" lengthAdjust="spacingAndGlyphs" fill="#000">2</text>
<text x="904.98" y="707.04" font-size="35.90" font-weight="normal" textLength="41.82" lengthAdjust="spacingAndGlyphs" fill="#000">10</text>
<text x="949.24" y="693.25" font-size="25.30" font-weight="normal" textLength="13.39" lengthAdjust="spacingAndGlyphs" fill="#000">0</text>
<text x="59.14" y="1046.47" font-size="33.22" font-weight="normal" textLength="39.62" lengthAdjust="spacingAndGlyphs" fill="#000">10</text>
<rect x="101.50" y="1026.93" width="14.34" height="1.85" fill="#000"/>
<text x="118.15" y="1033.94" font-size="23.74" font-weight="normal" textLength="12.44" lengthAdjust="spacingAndGlyphs" fill="#000">2</text>
<text x="258.90" y="1046.47" font-size="33.22" font-weight="normal" textLength="38.69" lengthAdjust="spacingAndGlyphs" fill="#000">10</text>
<text x="299.84" y="1033.71" font-size="23.41" font-weight="normal" textLength="12.39" lengthAdjust="spacingAndGlyphs" fill="#000">0</text>
<text x="371.59" y="1044.47" font-size="33.22" font-weight="normal" textLength="39.62" lengthAdjust="spacingAndGlyphs" fill="#000">10</text>
<rect x="413.95" y="1024.93" width="14.34" height="1.85" fill="#000"/>
<text x="430.60" y="1031.94" font-size="23.74" font-weight="normal" textLength="12.44" lengthAdjust="spacingAndGlyphs" fill="#000">2</text>
<text x="571.30" y="1044.47" font-size="33.22" font-weight="normal" textLength="38.69" lengthAdjust="spacingAndGlyphs" fill="#000">10</text>
<text x="612.24" y="1031.71" font-size="23.41" font-weight="normal" textLength="12.39" lengthAdjust="spacingAndGlyphs" fill="#000">0</text>
<text x="694.94" y="1044.47" font-size="33.22" font-weight="normal" textLength="39.62" lengthAdjust="spacingAndGlyphs" fill="#000">10</text>
<rect x="737.30" y="1024.93" width="14.34" height="1.85" fill="#000"/>
<text x="753.95" y="1031.94" font-size="23.74" font-weight="normal" textLength="12.44" lengthAdjust="spacingAndGlyphs" fill="#000">2</text>
<text x="894.90" y="1044.47" font-size="33.22" font-weight="normal" textLength="38.69" lengthAdjust="spacingAndGlyphs" fill="#000">10</text>
<text x="935.84" y="1031.71" font-size="23.41" font-weight="normal" textLength="12.39" lengthAdjust="spacingAndGlyphs" fill="#000">0</text>
<text x="97.99" y="1085.55" font-size="34.69" font-weight="normal" textLength="187.64" lengthAdjust="spacingAndGlyphs" fill="#000">density [BL</text>
<rect x="287.00" y="1065.85" width="14.60" height="1.9" fill="#000"/>
<text x="303.54" y="1073.40" font-size="24.09" font-weight="normal" textLength="14.06" lengthAdjust="spacingAndGlyphs" fill="#000">2</text>
<text x="320.72" y="1083.18" font-size="31.42" font-weight="normal" textLength="10.28" lengthAdjust="spacingAndGlyphs" fill="#000">]</text>
<text x="399.38" y="1085.55" font-size="34.69" font-weight="normal" textLength="188.46" lengthAdjust="spacingAndGlyphs" fill="#000">density [BL</text>
<rect x="589.22" y="1065.85" width="14.66" height="1.9" fill="#000"/>
<text x="605.83" y="1073.40" font-size="24.09" font-weight="normal" textLength="14.12" lengthAdjust="spacingAndGlyphs" fill="#000">2</text>
<text x="623.09" y="1083.18" font-size="31.42" font-weight="normal" textLength="10.33" lengthAdjust="spacingAndGlyphs" fill="#000">]</text>
<text x="724.98" y="1085.55" font-size="34.69" font-weight="normal" textLength="188.05" lengthAdjust="spacingAndGlyphs" fill="#000">density [BL</text>
<rect x="914.41" y="1065.85" width="14.63" height="1.9" fill="#000"/>
<text x="930.98" y="1073.40" font-size="24.09" font-weight="normal" textLength="14.09" lengthAdjust="spacingAndGlyphs" fill="#000">2</text>
<text x="948.21" y="1083.18" font-size="31.42" font-weight="normal" textLength="10.30" lengthAdjust="spacingAndGlyphs" fill="#000">]</text>
<text transform="translate(26.80,287.88) rotate(-90)" x="0" y="0" font-size="32.83" font-weight="normal" textLength="212.47" lengthAdjust="spacingAndGlyphs" stroke="#fff" stroke-width="0.35">avg. shortest</text>
<text transform="translate(67.50,218.26) rotate(-90)" x="0" y="0" font-size="34.21" font-weight="normal" textLength="73.57" lengthAdjust="spacingAndGlyphs" stroke="#fff" stroke-width="0.35">path</text>
<text transform="translate(26.60,622.12) rotate(-90)" x="0" y="0" font-size="31.31" font-weight="normal" textLength="171.22" lengthAdjust="spacingAndGlyphs" stroke="#fff" stroke-width="0.35">avg. clust.</text>
<text transform="translate(67.50,620.81) rotate(-90)" x="0" y="0" font-size="32.25" font-weight="normal" textLength="169.37" lengthAdjust="spacingAndGlyphs" stroke="#fff" stroke-width="0.35">coefficient</text>
<text transform="translate(26.60,972.40) rotate(-90)" x="0" y="0" font-size="32.00" font-weight="normal" textLength="133.57" lengthAdjust="spacingAndGlyphs" stroke="#fff" stroke-width="0.35">avg. rel.</text>
<text transform="translate(67.20,973.36) rotate(-90)" x="0" y="0" font-size="34.76" font-weight="normal" textLength="170.64" lengthAdjust="spacingAndGlyphs" stroke="#fff" stroke-width="0.35">link length</text>
<rect x="60.55" y="1199.35" width="40.05" height="12.55" fill="#43077e" stroke="#000" stroke-width="2.7"/>
<rect x="100.60" y="1199.35" width="42.70" height="12.55" fill="#6a409f" stroke="#000" stroke-width="2.7"/>
<rect x="143.30" y="1199.35" width="42.80" height="12.55" fill="#967cbc" stroke="#000" stroke-width="2.7"/>
<rect x="186.10" y="1199.35" width="42.80" height="12.55" fill="#b3a1d1" stroke="#000" stroke-width="2.7"/>
<rect x="228.90" y="1199.35" width="42.80" height="12.55" fill="#c9bee0" stroke="#000" stroke-width="2.7"/>
<rect x="271.70" y="1199.35" width="41.65" height="12.55" fill="#ddd6eb" stroke="#000" stroke-width="2.7"/>
<line x1="122.80" y1="1184.50" x2="122.80" y2="1199.35" stroke="#000" stroke-width="2.3" stroke-linecap="butt"/>
<line x1="208.40" y1="1184.50" x2="208.40" y2="1199.35" stroke="#000" stroke-width="2.3" stroke-linecap="butt"/>
<line x1="294.00" y1="1184.50" x2="294.00" y2="1199.35" stroke="#000" stroke-width="2.3" stroke-linecap="butt"/>
<line x1="80.00" y1="1211.90" x2="80.00" y2="1224.90" stroke="#000" stroke-width="2.3" stroke-linecap="butt"/>
<line x1="165.60" y1="1211.90" x2="165.60" y2="1224.90" stroke="#000" stroke-width="2.3" stroke-linecap="butt"/>
<line x1="251.20" y1="1211.90" x2="251.20" y2="1224.90" stroke="#000" stroke-width="2.3" stroke-linecap="butt"/>
<rect x="387.05" y="1199.35" width="41.45" height="12.55" fill="#f9e7dd" stroke="#000" stroke-width="2.7"/>
<rect x="428.50" y="1199.35" width="42.80" height="12.55" fill="#f6d9c9" stroke="#000" stroke-width="2.7"/>
<rect x="471.30" y="1199.35" width="42.10" height="12.55" fill="#f2cab6" stroke="#000" stroke-width="2.7"/>
<rect x="513.40" y="1199.35" width="42.60" height="12.55" fill="#eeb496" stroke="#000" stroke-width="2.7"/>
<rect x="556.00" y="1199.35" width="42.50" height="12.55" fill="#e79b78" stroke="#000" stroke-width="2.7"/>
<rect x="598.50" y="1199.35" width="40.35" height="12.55" fill="#e07b4f" stroke="#000" stroke-width="2.7"/>
<line x1="449.90" y1="1184.50" x2="449.90" y2="1199.35" stroke="#000" stroke-width="2.3" stroke-linecap="butt"/>
<line x1="534.50" y1="1184.50" x2="534.50" y2="1199.35" stroke="#000" stroke-width="2.3" stroke-linecap="butt"/>
<line x1="620.20" y1="1184.50" x2="620.20" y2="1199.35" stroke="#000" stroke-width="2.3" stroke-linecap="butt"/>
<line x1="407.10" y1="1211.90" x2="407.10" y2="1224.90" stroke="#000" stroke-width="2.3" stroke-linecap="butt"/>
<line x1="492.30" y1="1211.90" x2="492.30" y2="1224.90" stroke="#000" stroke-width="2.3" stroke-linecap="butt"/>
<line x1="577.40" y1="1211.90" x2="577.40" y2="1224.90" stroke="#000" stroke-width="2.3" stroke-linecap="butt"/>
<rect x="706.35" y="1199.35" width="41.15" height="12.55" fill="#e0e9e0" stroke="#000" stroke-width="2.7"/>
<rect x="747.50" y="1199.35" width="41.70" height="12.55" fill="#cbddcb" stroke="#000" stroke-width="2.7"/>
<rect x="789.20" y="1199.35" width="42.80" height="12.55" fill="#b9d3ba" stroke="#000" stroke-width="2.7"/>
<rect x="832.00" y="1199.35" width="42.30" height="12.55" fill="#9bc19e" stroke="#000" stroke-width="2.7"/>
<rect x="874.30" y="1199.35" width="42.80" height="12.55" fill="#78a67b" stroke="#000" stroke-width="2.7"/>
<rect x="917.10" y="1199.35" width="41.45" height="12.55" fill="#558b59" stroke="#000" stroke-width="2.7"/>
<line x1="726.10" y1="1184.50" x2="726.10" y2="1199.35" stroke="#000" stroke-width="2.3" stroke-linecap="butt"/>
<line x1="810.60" y1="1184.50" x2="810.60" y2="1199.35" stroke="#000" stroke-width="2.3" stroke-linecap="butt"/>
<line x1="896.80" y1="1184.50" x2="896.80" y2="1199.35" stroke="#000" stroke-width="2.3" stroke-linecap="butt"/>
<line x1="769.20" y1="1211.90" x2="769.20" y2="1224.90" stroke="#000" stroke-width="2.3" stroke-linecap="butt"/>
<line x1="853.60" y1="1211.90" x2="853.60" y2="1224.90" stroke="#000" stroke-width="2.3" stroke-linecap="butt"/>
<line x1="938.50" y1="1211.90" x2="938.50" y2="1224.90" stroke="#000" stroke-width="2.3" stroke-linecap="butt"/>
<text x="47.75" y="1175.07" font-size="32.93" font-weight="normal" textLength="90.70" lengthAdjust="spacingAndGlyphs" fill="#000">0.005</text>
<text x="170.23" y="1175.07" font-size="32.93" font-weight="normal" textLength="92.16" lengthAdjust="spacingAndGlyphs" fill="#000">0.020</text>
<text x="286.13" y="1175.07" font-size="32.93" font-weight="normal" textLength="91.95" lengthAdjust="spacingAndGlyphs" fill="#000">0.200</text>
<text x="4.94" y="1257.38" font-size="32.23" font-weight="normal" textLength="91.33" lengthAdjust="spacingAndGlyphs" fill="#000">0.000</text>
<text x="119.83" y="1257.38" font-size="32.23" font-weight="normal" textLength="92.16" lengthAdjust="spacingAndGlyphs" fill="#000">0.010</text>
<text x="245.13" y="1257.38" font-size="32.23" font-weight="normal" textLength="91.95" lengthAdjust="spacingAndGlyphs" fill="#000">0.050</text>
<text x="438.97" y="1175.40" font-size="33.41" font-weight="normal" textLength="19.19" lengthAdjust="spacingAndGlyphs" fill="#000">2</text>
<text x="516.00" y="1175.07" font-size="32.93" font-weight="normal" textLength="41.48" lengthAdjust="spacingAndGlyphs" fill="#000">10</text>
<text x="603.50" y="1175.07" font-size="32.93" font-weight="normal" textLength="38.89" lengthAdjust="spacingAndGlyphs" fill="#000">50</text>
<text x="395.20" y="1257.00" font-size="32.69" font-weight="normal" textLength="19.29" lengthAdjust="spacingAndGlyphs" fill="#000">1</text>
<text x="483.70" y="1256.68" font-size="32.23" font-weight="normal" textLength="16.74" lengthAdjust="spacingAndGlyphs" fill="#000">5</text>
<text x="553.19" y="1256.68" font-size="32.23" font-weight="normal" textLength="40.25" lengthAdjust="spacingAndGlyphs" fill="#000">20</text>
<text x="714.33" y="1174.67" font-size="33.36" font-weight="normal" textLength="41.15" lengthAdjust="spacingAndGlyphs" fill="#000">10</text>
<text x="792.08" y="1174.67" font-size="33.36" font-weight="normal" textLength="39.54" lengthAdjust="spacingAndGlyphs" fill="#000">50</text>
<text x="869.33" y="1174.67" font-size="33.36" font-weight="normal" textLength="61.70" lengthAdjust="spacingAndGlyphs" fill="#000">150</text>
<text x="742.42" y="1257.38" font-size="32.23" font-weight="normal" textLength="39.70" lengthAdjust="spacingAndGlyphs" fill="#000">25</text>
<text x="832.16" y="1257.38" font-size="32.23" font-weight="normal" textLength="40.80" lengthAdjust="spacingAndGlyphs" fill="#000">90</text>
<text x="916.64" y="1257.38" font-size="32.23" font-weight="normal" textLength="62.09" lengthAdjust="spacingAndGlyphs" fill="#000">200</text>
</svg></body></html>
